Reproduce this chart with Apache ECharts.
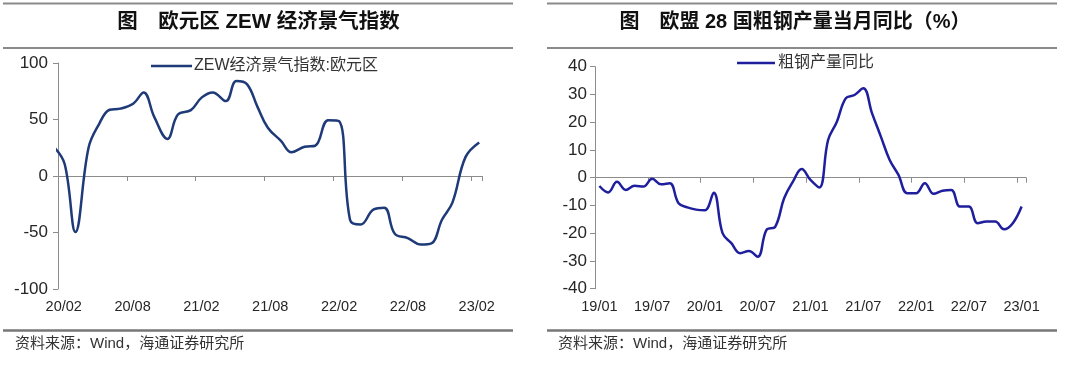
<!DOCTYPE html>
<html><head><meta charset="utf-8">
<script src="https://cdn.jsdelivr.net/npm/echarts@6/dist/echarts.min.js"></script>
<style>html,body{margin:0;padding:0;background:#fff;}#c{width:1080px;height:365px;}</style>
</head><body><div id="c"></div>
<script>
// ---- Left chart: Euro area ZEW economic sentiment (release dates) ----
const zewDates = [
 '2020-01-21','2020-02-18','2020-03-17','2020-04-21','2020-05-19','2020-06-16','2020-07-14','2020-08-18','2020-09-15','2020-10-13','2020-11-17','2020-12-15',
 '2021-01-19','2021-02-16','2021-03-16','2021-04-20','2021-05-18','2021-06-15','2021-07-13','2021-08-10','2021-09-14','2021-10-12','2021-11-16','2021-12-14',
 '2022-01-18','2022-02-15','2022-03-15','2022-04-12','2022-05-17','2022-06-14','2022-07-12','2022-08-16','2022-09-20','2022-10-18','2022-11-15','2022-12-13',
 '2023-01-17','2023-02-21'];
const zewValues = [
 25.6, 10.4, -49.5, 25.2, 46.0, 58.6, 59.6, 64.0, 73.9, 52.3, 32.8, 54.4,
 58.3, 69.6, 74.0, 66.3, 84.0, 81.3, 61.2, 42.7, 31.1, 21.0, 25.9, 26.8,
 49.4, 48.6, -38.7, -43.0, -29.5, -28.0, -51.1, -54.9, -60.7, -59.7, -38.7, -23.3,
 16.7, 29.7];
const zewTickLabels = ['20/02','20/08','21/02','21/08','22/02','22/08','23/02'];
const zewYTicks = [-100, -50, 0, 50, 100];

// ---- Right chart: EU28 crude steel output YoY (%) ----
const steelMonths = [
 '2019-01','2019-02','2019-03','2019-04','2019-05','2019-06','2019-07','2019-08','2019-09','2019-10','2019-11','2019-12',
 '2020-01','2020-02','2020-03','2020-04','2020-05','2020-06','2020-07','2020-08','2020-09','2020-10','2020-11','2020-12',
 '2021-01','2021-02','2021-03','2021-04','2021-05','2021-06','2021-07','2021-08','2021-09','2021-10','2021-11','2021-12',
 '2022-01','2022-02','2022-03','2022-04','2022-05','2022-06','2022-07','2022-08','2022-09','2022-10','2022-11','2022-12',
 '2023-01'];
const steelValues = [
 -3.0, -5.3, -1.5, -4.4, -2.9, -3.2, -0.4, -2.4, -2.0, -9.2, -10.7, -11.5,
 -11.7, -5.4, -20.0, -23.6, -27.2, -26.4, -28.5, -18.8, -17.6, -7.4, -1.4, 3.1,
 -0.8, -3.5, 13.6, 20.2, 28.6, 29.8, 32.2, 23.2, 14.8, 6.4, 1.0, -5.6,
 -5.6, -2.0, -5.8, -4.7, -4.4, -10.4, -10.4, -16.4, -15.8, -15.8, -18.6, -16.4,
 -10.4];
const steelTickLabels = ['19/01','19/07','20/01','20/07','21/01','21/07','22/01','22/07','23/01'];
const steelYTicks = [-40, -30, -20, -10, 0, 10, 20, 30, 40];

// month position (fractional months since base year/month)
function monthPos(dateStr, baseY, baseM) {
  const p = dateStr.split('-').map(Number);
  const dim = new Date(p[0], p[1], 0).getDate();
  const day = p.length > 2 ? (p[2] - 1) / dim : 0.5;
  return (p[0] - baseY) * 12 + (p[1] - baseM) + day;
}

const NUM = "'Liberation Sans', Arial, 'Noto Sans CJK SC', sans-serif";
const CJK = "'Liberation Sans', 'Noto Sans CJK SC', sans-serif";
const axisGray = '#8c8c8c';
const labelColor = '#262626';

const chart = echarts.init(document.getElementById('c'), null, {renderer: 'canvas'});

function xAxes(gridIndex, maxV, labels) {
  return [
    { type: 'value', gridIndex, min: 0, max: maxV, interval: 6,
      axisLine: { onZero: true, lineStyle: { color: axisGray, width: 1 } },
      axisTick: { show: true, inside: false, length: 5, lineStyle: { color: axisGray } },
      axisLabel: { show: false }, splitLine: { show: false } },
    { type: 'value', gridIndex, min: 0, max: maxV, position: 'bottom',
      axisLine: { show: false, onZero: false }, axisTick: { show: false }, splitLine: { show: false },
      axisLabel: { show: true, margin: 11, fontSize: 14.5, color: labelColor, fontFamily: NUM,
        customValues: labels.map((l, i) => i * 6 + 0.5),
        formatter: v => labels[Math.round((v - 0.5) / 6)] } }
  ];
}

function yAxis(gridIndex, ticks, margin, fs) {
  return { type: 'value', gridIndex, min: ticks[0], max: ticks[ticks.length-1], interval: ticks[1]-ticks[0],
    axisLine: { show: true, lineStyle: { color: axisGray, width: 1 } },
    axisTick: { show: true, inside: false, length: 5, lineStyle: { color: axisGray } },
    axisLabel: { margin, fontSize: fs, color: labelColor, fontFamily: NUM },
    splitLine: { show: false } };
}

const option = {
  backgroundColor: '#fff',
  animation: false,
  grid: [
    { left: 58, top: 63, width: 424.5, height: 226, containLabel: false },
    { left: 595, top: 66.7, width: 431, height: 222, containLabel: false }
  ],
  xAxis: [].concat(xAxes(0, 37, zewTickLabels), xAxes(1, 49, steelTickLabels)),
  yAxis: [ yAxis(0, zewYTicks, 10, 17), yAxis(1, steelYTicks, 8, 17) ],
  legend: [
    { data: [{ name: 'ZEW经济景气指数:欧元区', icon: 'rect' }], left: 151, top: 58, padding: 0, itemWidth: 41, itemHeight: 2.5, itemGap: 0,
      textStyle: { fontSize: 16, color: '#333', fontFamily: CJK, padding: [0, 0, 0, -3] } },
    { data: [{ name: '粗钢产量同比', icon: 'rect' }], left: 737, top: 55, padding: 0, itemWidth: 38, itemHeight: 2.5,
      textStyle: { fontSize: 16, color: '#333', fontFamily: CJK, padding: [0, 0, 0, -2] } }
  ],
  series: [
    { name: 'ZEW经济景气指数:欧元区', type: 'line', xAxisIndex: 0, yAxisIndex: 0, smooth: 0.4, symbol: 'none',
      clip: true, lineStyle: { color: '#1E3A78', width: 2.5 }, itemStyle: { color: '#1E3A78' },
      data: zewDates.map((d, i) => [monthPos(d, 2020, 2), zewValues[i]]) },
    { name: '粗钢产量同比', type: 'line', xAxisIndex: 2, yAxisIndex: 1, smooth: 0.4, symbol: 'none',
      clip: true, lineStyle: { color: '#1F1F9E', width: 2.5 }, itemStyle: { color: '#1F1F9E' },
      data: steelMonths.map((m, i) => [monthPos(m, 2019, 1), steelValues[i]]) }
  ],
  graphic: [
    { type: 'line', shape: { x1: 3, y1: 3.5, x2: 513, y2: 3.5 }, style: { stroke: '#8a8a8a', lineWidth: 2 } },
    { type: 'line', shape: { x1: 3, y1: 48, x2: 513, y2: 48 }, style: { stroke: '#8a8a8a', lineWidth: 2 } },
    { type: 'line', shape: { x1: 547, y1: 3.5, x2: 1057, y2: 3.5 }, style: { stroke: '#8a8a8a', lineWidth: 2 } },
    { type: 'line', shape: { x1: 547, y1: 48, x2: 1057, y2: 48 }, style: { stroke: '#8a8a8a', lineWidth: 2 } },
    { type: 'line', shape: { x1: 3, y1: 330.5, x2: 513, y2: 330.5 }, style: { stroke: '#777', lineWidth: 2.5 } },
    { type: 'line', shape: { x1: 547, y1: 330.5, x2: 1057, y2: 330.5 }, style: { stroke: '#777', lineWidth: 2.5 } },
    { type: 'text', x: 258.5, y: 22, style: { text: '图　欧元区 ZEW 经济景气指数', align: 'center', verticalAlign: 'middle',
      font: "bold 20.5px 'Liberation Sans', 'Noto Sans CJK SC', sans-serif", fill: '#111' } },
    { type: 'text', x: 795, y: 22, style: { text: '图　欧盟 28 国粗钢产量当月同比（%）', align: 'center', verticalAlign: 'middle',
      font: "bold 20px 'Liberation Sans', 'Noto Sans CJK SC', sans-serif", fill: '#111' } },
    { type: 'text', x: 15, y: 344, style: { text: '资料来源：Wind，海通证券研究所', align: 'left', verticalAlign: 'middle',
      font: "15px 'Liberation Sans', 'Noto Sans CJK SC', sans-serif", fill: '#333' } },
    { type: 'text', x: 558, y: 344, style: { text: '资料来源：Wind，海通证券研究所', align: 'left', verticalAlign: 'middle',
      font: "15px 'Liberation Sans', 'Noto Sans CJK SC', sans-serif", fill: '#333' } }
  ]
};
chart.setOption(option);
</script></body></html>
